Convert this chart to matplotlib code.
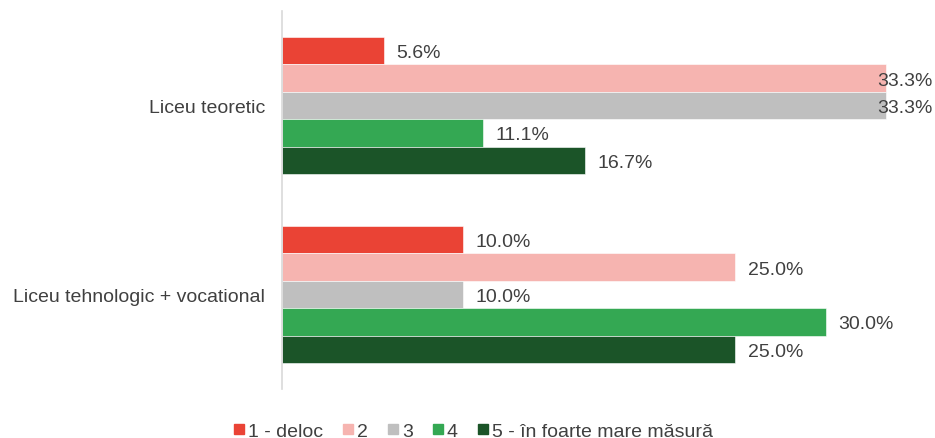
import matplotlib
matplotlib.use("Agg")
import matplotlib.pyplot as plt
import numpy as np
from matplotlib.lines import Line2D

plt.rcParams['font.family'] = ['Liberation Sans', 'DejaVu Sans']

categories = ["Liceu teoretic", "Liceu tehnologic + vocational"]
series_names = ["1 - deloc", "2", "3", "4", "5 - în foarte mare măsură"]
values = {
    "1 - deloc": [5.6, 10.0],
    "2": [33.3, 25.0],
    "3": [33.3, 10.0],
    "4": [11.1, 30.0],
    "5 - în foarte mare măsură": [16.7, 25.0],
}
colors = ["#EA4335", "#F6B4B0", "#BFBFBF", "#34A853", "#1B5428"]
text_color = "#404040"
fs = 14

fig = plt.figure(figsize=(9.35, 4.39), dpi=100)
ax = fig.add_axes([282/935, 1-390/439, (933-282)/935, 378/439])

n = len(series_names)
h = 0.1455
y = np.arange(len(categories))
xmax = 35.9
for i, (name, c) in enumerate(zip(series_names, colors)):
    vals = values[name]
    pos = y + (i - (n - 1) / 2) * h
    ax.barh(pos, vals, height=h, color=c, edgecolor='white', linewidth=0.4)
    for p, v in zip(pos, vals):
        label = f"{v:.1f}%"
        if v + 3.7 > xmax:
            ax.text(1.0, p, label, transform=ax.get_yaxis_transform(), ha='right',
                    va='center_baseline', fontsize=fs, color=text_color)
        else:
            ax.annotate(label, (v, p), xytext=(9, 0), textcoords='offset points',
                        ha='left', va='center_baseline', fontsize=fs, color=text_color)

ax.set_xlim(0, xmax)
ax.set_ylim(1.5, -0.5)
ax.set_yticks(y)
ax.set_yticklabels(categories, fontsize=fs, color=text_color)
ax.tick_params(axis='y', length=0, pad=12)
ax.set_xticks([])
for s in ['top', 'right', 'bottom']:
    ax.spines[s].set_visible(False)
ax.spines['left'].set_color('#D9D9D9')
ax.spines['left'].set_linewidth(1.2)

handles = [Line2D([0], [0], marker='s', linestyle='none', markersize=7.5,
                  markerfacecolor=c, markeredgecolor=c) for c in colors]
fig.legend(handles, series_names, loc='center', bbox_to_anchor=(472/935, 1-432/439),
           ncol=5, frameon=False, fontsize=fs, handletextpad=0.05, columnspacing=0.9,
           labelcolor=text_color, handlelength=0.8)

fig.savefig("out.png", dpi=100)
